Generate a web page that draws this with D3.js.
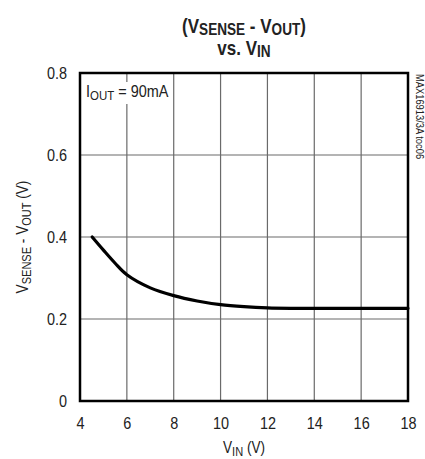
<!DOCTYPE html>
<html>
<head>
<meta charset="utf-8">
<script src="https://cdn.jsdelivr.net/npm/d3@7"></script>
<style>
  body { margin: 0; background: #fff; }
  svg text { font-family: "Liberation Sans", Arial, sans-serif; fill: #222; }
  .title { font-weight: bold; font-size: 20px; }
  .tick text { font-size: 17px; }
</style>
</head>
<body>
<svg id="chart"></svg>
<script>
// curve
var vin = [4.52, 5.0, 5.5, 6.0, 7.0, 8.0, 9.0, 10.0, 11.0, 12.0, 13.0, 14.0, 16.0, 18.0];
var vdrop = [0.400, 0.368, 0.336, 0.308, 0.276, 0.257, 0.244, 0.235, 0.230, 0.227, 0.226, 0.226, 0.226, 0.226];
var xTicks = [4, 6, 8, 10, 12, 14, 16, 18];
var yTicks = [0, 0.2, 0.4, 0.6, 0.8];

var screen = {width: 425, height: 459};
var margins = {left: 80, right: 17, top: 73, bottom: 58};
var graph = {
    width: screen.width - margins.left - margins.right,
    height: screen.height - margins.top - margins.bottom
};
// squeeze text sideways to look like a condensed face
var squeeze = 0.85;

var svg = d3.select("#chart")
    .attr("width", screen.width)
    .attr("height", screen.height);

var xScale = d3.scaleLinear().domain([4, 18]).range([0, graph.width]);
var yScale = d3.scaleLinear().domain([0, 0.8]).range([graph.height, 0]);

var target = svg.append("g")
    .attr("transform", "translate(" + margins.left + "," + margins.top + ")");

//grid
target.append("g")
    .selectAll("line")
    .data(xTicks.slice(1, -1))
    .enter()
    .append("line")
    .attr("x1", function(d) { return xScale(d); })
    .attr("x2", function(d) { return xScale(d); })
    .attr("y1", 0)
    .attr("y2", graph.height)
    .attr("stroke", "#6a6a6a")
    .attr("stroke-width", 1.2);

target.append("g")
    .selectAll("line")
    .data(yTicks.slice(1, -1))
    .enter()
    .append("line")
    .attr("y1", function(d) { return yScale(d); })
    .attr("y2", function(d) { return yScale(d); })
    .attr("x1", 0)
    .attr("x2", graph.width)
    .attr("stroke", "#6a6a6a")
    .attr("stroke-width", 1.2);

//annotation with white box so grid line breaks behind it
var note = target.append("g").attr("transform", "translate(6,24)");
note.append("rect")
    .attr("x", -1).attr("y", -15).attr("width", 82).attr("height", 22)
    .attr("fill", "#fff");
var noteText = note.append("g").attr("transform", "scale(" + squeeze + ",1)")
    .append("text").attr("font-size", 17);
noteText.append("tspan").text("I");
noteText.append("tspan").text("OUT").attr("font-size", 13.5).attr("dy", 3);
noteText.append("tspan").text(" = 90mA").attr("dy", -3);

//curve
var pts = vin.map(function(v, i) { return {x: v, y: vdrop[i]}; });
var line = d3.line()
    .x(function(d) { return xScale(d.x); })
    .y(function(d) { return yScale(d.y); })
    .curve(d3.curveCatmullRom.alpha(0.5));

target.append("path")
    .datum(pts)
    .attr("d", line)
    .attr("fill", "none")
    .attr("stroke", "#000")
    .attr("stroke-width", 3.2)
    .attr("stroke-linecap", "round");

//frame
target.append("rect")
    .attr("width", graph.width)
    .attr("height", graph.height)
    .attr("fill", "none")
    .attr("stroke", "#000")
    .attr("stroke-width", 2.5);

//axes
var xAxis = d3.axisBottom(xScale).tickValues(xTicks).tickSize(0).tickPadding(16)
    .tickFormat(d3.format("d"));
svg.append("g")
    .attr("transform", "translate(" + margins.left + "," + (margins.top + graph.height) + ")")
    .call(xAxis)
    .call(function(g) { g.select(".domain").remove(); })
    .selectAll(".tick text")
    .attr("transform", "scale(" + squeeze + ",1)");

var yAxis = d3.axisLeft(yScale).tickValues(yTicks).tickSize(0).tickPadding(13)
    .tickFormat(function(d) { return d === 0 ? "0" : d3.format(".1f")(d); });
svg.append("g")
    .attr("transform", "translate(" + margins.left + "," + margins.top + ")")
    .call(yAxis)
    .call(function(g) { g.select(".domain").remove(); })
    .selectAll(".tick text")
    .attr("x", -13 / squeeze)
    .attr("transform", "scale(" + squeeze + ",1)");

svg.selectAll(".tick text").attr("fill", "#222").attr("font-family", null);

//title
var t1 = svg.append("g").attr("transform", "translate(244,33) scale(" + squeeze + ",1)")
    .append("text").classed("title", true).attr("text-anchor", "middle");
t1.append("tspan").text("(V");
t1.append("tspan").text("SENSE").attr("font-size", 16).attr("dy", 2);
t1.append("tspan").text(" - V").attr("dy", -2);
t1.append("tspan").text("OUT").attr("font-size", 16).attr("dy", 2);
t1.append("tspan").text(")").attr("dy", -2);

var t2 = svg.append("g").attr("transform", "translate(244,55) scale(" + squeeze + ",1)")
    .append("text").classed("title", true).attr("text-anchor", "middle");
t2.append("tspan").text("vs. V");
t2.append("tspan").text("IN").attr("font-size", 16).attr("dy", 2);

//x label
var xl = svg.append("g").attr("transform", "translate(244,453) scale(" + squeeze + ",1)")
    .append("text").attr("font-size", 16).attr("text-anchor", "middle");
xl.append("tspan").text("V");
xl.append("tspan").text("IN").attr("font-size", 13).attr("dy", 3);
xl.append("tspan").text(" (V)").attr("dy", -3);

//y label
var yl = svg.append("g")
    .attr("transform", "translate(28," + (margins.top + graph.height / 2) + ") rotate(-90) scale(" + squeeze + ",1)")
    .append("text").attr("font-size", 16)
    .attr("text-anchor", "middle");
yl.append("tspan").text("V");
yl.append("tspan").text("SENSE").attr("font-size", 13).attr("dy", 3);
yl.append("tspan").text(" - V").attr("dy", -3);
yl.append("tspan").text("OUT").attr("font-size", 13).attr("dy", 3);
yl.append("tspan").text(" (V)").attr("dy", -3);

//side code
svg.append("g")
    .attr("transform", "translate(416,74) rotate(90) scale(0.85,1)")
    .append("text")
    .text("MAX16913/3A toc06")
    .attr("font-size", 11);
</script>
</body>
</html>
